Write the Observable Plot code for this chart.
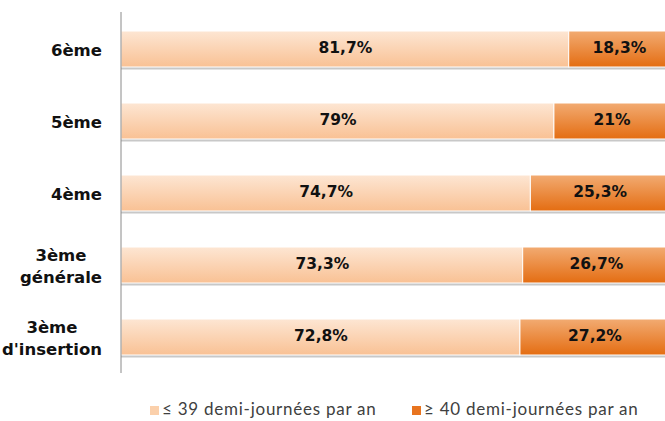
<!DOCTYPE html>
<html><head><meta charset="utf-8">
<script src="https://cdn.jsdelivr.net/npm/d3@7"></script>
<script src="https://cdn.jsdelivr.net/npm/@observablehq/plot@0.6"></script>
<style>
body{margin:0;background:#fff;width:665px;height:421px;overflow:hidden;position:relative}
#chart svg{display:block}
.legend{position:absolute;top:399px;left:0;width:665px;height:21px;font-family:Lato,sans-serif;font-size:17px;line-height:20px;letter-spacing:0.75px;color:#404040}
.legend .item{position:absolute;top:0;display:flex;align-items:center;white-space:nowrap}
.legend .sw{width:9px;height:9px;margin-right:3px;margin-top:3px}
</style>
</head><body>
<div id="chart"></div>
<div class="legend" id="legend"></div>
<script>
const categories = ["6ème", "5ème", "4ème", "3ème\ngénérale", "3ème\nd'insertion"];
const seriesNames = ["≤ 39 demi-journées par an", "≥ 40 demi-journées par an"];
const lowValues = [81.7, 79, 74.7, 73.3, 72.8];
const highValues = [18.3, 21, 25.3, 26.7, 27.2];
const seriesColors = ["#fbd0ab", "#e8741f"];

const fmt = v => (Number.isInteger(v) ? String(v) : v.toFixed(1).replace(".", ",")) + "%";
const rows = [];
categories.forEach((c, i) => {
  rows.push({cat: c, series: seriesNames[0], value: lowValues[i], label: fmt(lowValues[i])});
  rows.push({cat: c, series: seriesNames[1], value: highValues[i], label: fmt(highValues[i])});
});
const totals = categories.map((c, i) => ({cat: c, total: lowValues[i] + highValues[i]}));

const plot = Plot.plot({
  width: 665,
  height: 390,
  marginTop: 12,
  marginBottom: 17,
  marginLeft: 121,
  marginRight: 0,
  x: {domain: [0, 100], range: [121, 669], axis: null},
  y: {domain: categories, paddingInner: 0.5, paddingOuter: 0.25, axis: null},
  color: {type: "ordinal", domain: seriesNames, range: ["url(#gLow)", "url(#gHigh)"]},
  marks: [
    Plot.barX(totals, {x1: 0, x2: "total", y: "cat", fill: "#9a9a9a", fillOpacity: 0.55, dy: 2.5}),
    Plot.barX(rows, Plot.stackX({x: "value", y: "cat", fill: "series", stroke: "white", strokeWidth: 1})),
    Plot.text(rows, Plot.stackX({x: "value", y: "cat", text: "label", fill: "#111", fontWeight: "bold", fontSize: 15.5, fontFamily: "DejaVu Sans", dy: -1})),
    Plot.ruleX([0], {stroke: "#8a8a8a", strokeWidth: 1, dx: -0.5}),
    Plot.text(categories, {y: d => d, text: d => d, frameAnchor: "left", dx: -60, dy: -1, textAnchor: "middle", fontWeight: "bold", fontSize: 16.5, fontFamily: "DejaVu Sans", fill: "#111", lineHeight: 1.35, className: "catlabels"})
  ]
});

const svg = d3.select(plot);
svg.insert("defs", ":first-child").html(`
  <linearGradient id="gLow" x1="0" y1="0" x2="0" y2="1">
    <stop offset="0" stop-color="#fde6d3"/>
    <stop offset="1" stop-color="#f9c194"/>
  </linearGradient>
  <linearGradient id="gHigh" x1="0" y1="0" x2="0" y2="1">
    <stop offset="0" stop-color="#f2ab72"/>
    <stop offset="1" stop-color="#e46d12"/>
  </linearGradient>`);
document.getElementById("chart").appendChild(plot);

// right-align each category label block at x = 102, lines centred within the block
const svgLeft = plot.getBoundingClientRect().left;
plot.querySelectorAll(".catlabels text").forEach(t => {
  const r = t.getBoundingClientRect();
  const shift = 102 - (r.right - svgLeft);
  const tr = t.getAttribute("transform") || "";
  t.setAttribute("transform", `translate(${shift},0) ` + tr);
});

const legend = document.getElementById("legend");
const lefts = [150, 412];
seriesNames.forEach((s, i) => {
  const item = document.createElement("div");
  item.className = "item";
  item.style.left = lefts[i] + "px";
  const sw = document.createElement("span");
  sw.className = "sw";
  sw.style.background = seriesColors[i];
  const tx = document.createElement("span");
  tx.textContent = s;
  item.appendChild(sw);
  item.appendChild(tx);
  legend.appendChild(item);
});
</script>
</body></html>
